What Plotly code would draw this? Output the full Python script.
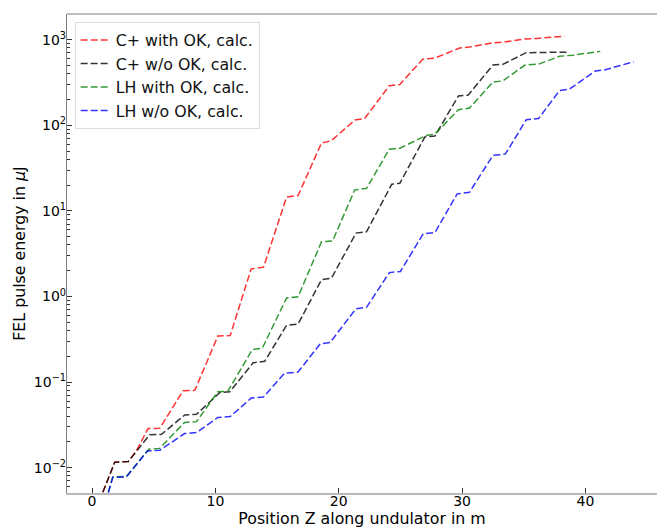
import plotly.graph_objects as go

# ---- data ----
names = ["C+ with OK, calc.", "C+ w/o OK, calc.", "LH with OK, calc.", "LH w/o OK, calc."]
colors = ["rgba(255,0,0,0.8)", "rgba(0,0,0,0.8)", "rgba(0,128,0,0.8)", "rgba(0,0,255,0.8)"]

red_x = [0.6, 0.84, 1.84, 2.94, 3.6, 4.54, 5.49, 7.38, 8.33, 10.2, 11.2, 12.9, 13.9, 15.77, 16.7,
         18.6, 19.4, 21.3, 22.1, 24.1, 24.95, 26.8, 27.8, 29.8, 30.6, 32.5, 33.3, 35.1, 36.1, 38.3]
red_y = [0.004, 0.005, 0.0116, 0.0118, 0.0158, 0.0286, 0.0288, 0.079, 0.080, 0.345, 0.35, 2.1, 2.2,
         14.5, 15.1, 62, 66, 115, 120, 290, 300, 590, 610, 800, 820, 920, 935, 1020, 1035, 1095]

blk_x = [0.6, 0.84, 1.84, 2.94, 4.68, 5.63, 7.52, 8.47, 10.36, 11.17, 13.06, 14.0, 15.77, 16.7,
         18.6, 19.4, 21.4, 22.25, 24.3, 24.95, 26.98, 27.8, 29.7, 30.5, 32.5, 33.3, 35.2, 38.5]
blk_y = [0.004, 0.005, 0.0116, 0.0118, 0.0243, 0.0245, 0.0413, 0.042, 0.0755, 0.077, 0.168, 0.175,
         0.46, 0.475, 1.57, 1.63, 5.5, 5.7, 20.5, 21.0, 73, 75, 220, 226, 505, 515, 705, 715]

grn_x = [1.0, 1.3, 1.68, 2.79, 4.6, 5.49, 7.5, 8.47, 10.2, 11.0, 13.0, 13.8, 15.77, 16.7, 18.6, 19.5,
         21.3, 22.25, 24.1, 24.95, 27.1, 27.8, 29.7, 30.6, 32.5, 33.3, 35.1, 36.2, 37.9, 39.0, 41.2]
grn_y = [0.004, 0.005, 0.0078, 0.0079, 0.0164, 0.0168, 0.0338, 0.0345, 0.0772, 0.078, 0.24, 0.248,
         0.96, 0.99, 4.35, 4.45, 17.6, 18.3, 52.5, 54, 76, 79, 152, 159, 320, 330, 505, 518, 640, 660, 730]

blu_x = [1.0, 1.3, 1.68, 2.79, 4.5, 5.5, 7.5, 8.47, 10.2, 11.2, 12.9, 13.9, 15.6, 16.7, 18.5, 19.3,
         21.4, 22.25, 24.1, 25.0, 26.85, 27.8, 29.6, 30.6, 32.5, 33.5, 35.2, 36.2, 37.9, 38.7, 40.8, 41.6, 43.9]
blu_y = [0.004, 0.005, 0.0077, 0.0078, 0.0157, 0.016, 0.025, 0.0257, 0.0386, 0.0395, 0.065, 0.067,
         0.127, 0.131, 0.28, 0.29, 0.72, 0.745, 1.9, 1.96, 5.4, 5.6, 15.8, 16.5, 44.5, 46, 116, 120,
         255, 265, 430, 445, 553]

x_ticks = [0, 10, 20, 30, 40]
y_tick_vals = [0.01, 0.1, 1, 10, 100, 1000]
y_tick_text = ["10<sup>−2</sup>", "10<sup>−1</sup>", "10<sup>0</sup>", "10<sup>1</sup>",
               "10<sup>2</sup>", "10<sup>3</sup>"]
y_minor = [m * 10.0 ** e for e in range(-3, 4) for m in range(2, 10)]

series = [(red_x, red_y), (blk_x, blk_y), (grn_x, grn_y), (blu_x, blu_y)]

fig = go.Figure()
for (xs, ys), nm, col in zip(series, names, colors):
    fig.add_trace(go.Scatter(x=xs, y=ys, mode="lines", name=nm,
                             line=dict(color=col, width=1.5, dash="7px,3px")))

font_family = "DejaVu Sans, sans-serif"
fig.update_layout(
    width=657, height=529,
    margin=dict(l=67, r=0, t=14, b=36, autoexpand=False),
    plot_bgcolor="white", paper_bgcolor="white",
    font=dict(family=font_family, size=14, color="black"),
    showlegend=True,
    legend=dict(x=0.013, y=0.983, xanchor="left", yanchor="top",
                bgcolor="rgba(255,255,255,0.8)", bordercolor="#dddddd", borderwidth=1,
                font=dict(size=15.8, family=font_family, color="#111111"),
                tracegroupgap=0),
    xaxis=dict(range=[-2.03, 45.8], tickvals=x_ticks, ticks="inside", ticklen=5, tickwidth=1,
               tickcolor="#333333", showgrid=False, zeroline=False, automargin=False,
               showline=True, linecolor="#b8b8b8", linewidth=2, ticklabelstandoff=-6,
               title=dict(text="Position Z along undulator in m", font=dict(size=15.8), standoff=0)),
    yaxis=dict(type="log", range=[-2.296, 3.30], tickvals=y_tick_vals, ticktext=y_tick_text,
               ticks="inside", ticklen=5, tickwidth=1, tickcolor="#333333", automargin=False,
               showgrid=False, zeroline=False, showline=True, linecolor="#808080", linewidth=1.2,
               ticklabelstandoff=-3,
               minor=dict(tickvals=y_minor, ticks="inside", ticklen=3, tickwidth=0.8,
                          tickcolor="#333333", showgrid=False),
               title=dict(text="FEL pulse energy in <i>μ</i>J", font=dict(size=15.8), standoff=4)),
    shapes=[dict(type="line", xref="paper", yref="paper", x0=0, x1=1, y0=1, y1=1,
                 line=dict(color="#808080", width=1.2))],
)

fig.write_html("out.html", config={"displayModeBar": False},
               post_script="document.body.style.margin='0';document.body.style.padding='0';")
